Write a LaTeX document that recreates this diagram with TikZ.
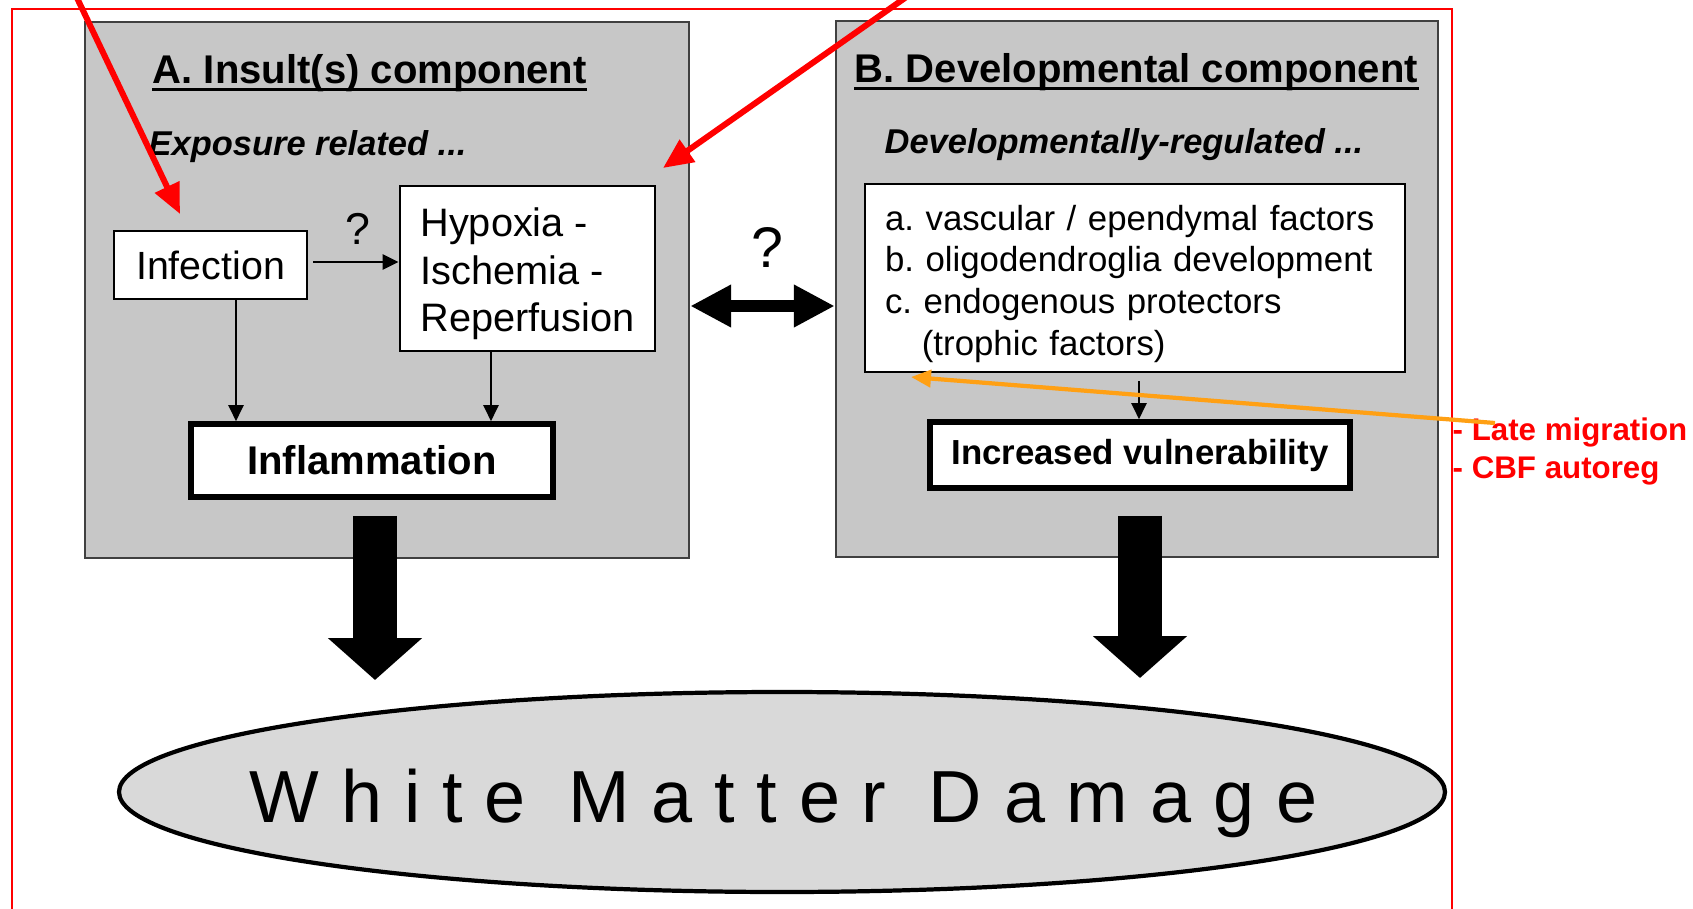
\documentclass[tikz,border=0pt]{standalone}
\usepackage{fontspec}
\setmainfont{Liberation Sans}
\newfontfamily\spacedfont[LetterSpace=29.6]{Liberation Sans}
\usetikzlibrary{arrows.meta, shapes.geometric}
\definecolor{notecolor}{RGB}{255,160,20}
\tikzstyle{panel}=[draw=black!75, line width=0.7pt, fill=black!22]
\tikzstyle{box}=[draw, line width=0.8pt, fill=white, inner sep=0pt]
\tikzstyle{thickbox}=[draw, line width=1.6pt, fill=white, inner sep=0pt]
\tikzstyle{title}=[font=\fontsize{11.4}{13}\selectfont\bfseries, inner sep=0pt, anchor=base west]
\tikzstyle{subtitle}=[font=\fontsize{9.8}{12}\selectfont\bfseries\itshape, inner sep=0pt, anchor=base west]
\tikzstyle{thin arrow}=[line width=0.7pt, -{Triangle[length=0.16cm, width=0.15cm]}]
\tikzstyle{big arrow}=[line width=0.44cm, -{Triangle[length=0.42cm, width=0.92cm]}]
\tikzstyle{note arrow}=[line width=1.7pt, -{Triangle[length=0.30cm, width=0.26cm]}]
\tikzstyle{note}=[font=\fontsize{8.9}{10}\selectfont\bfseries, text=red, inner sep=0pt, anchor=base west]

\begin{document}
\begin{tikzpicture}[x=1cm, y=-1cm]
    \useasboundingbox (0,0) rectangle (16.93,9.09);
    % two components
    \node[panel, minimum width=6.04cm, minimum height=5.36cm] (panelA) at (3.87,2.90) {};
    \node[panel, minimum width=6.02cm, minimum height=5.36cm] (panelB) at (11.37,2.89) {};
    \node[title] (titleA) at (1.52,0.83) {A. Insult(s) component};
    \node[title] (titleB) at (8.54,0.82) {B. Developmental component};
    \draw[line width=0.9pt] ([yshift=-1.8pt]titleA.base west) -- ([yshift=-1.8pt]titleA.base east);
    \draw[line width=0.9pt] ([yshift=-1.8pt]titleB.base west) -- ([yshift=-1.8pt]titleB.base east);
    \node[subtitle] (exposure) at (1.48,1.55) {Exposure related ...};
    \node[subtitle] (regulated) at (8.84,1.53) {Developmentally-regulated ...};

    \node[box, minimum width=1.93cm, minimum height=0.68cm, font=\fontsize{11.2}{13}\selectfont] (infection) at (2.105,2.65) {Infection};
    \node[box, minimum width=2.55cm, minimum height=1.65cm, align=left, font=\fontsize{11.3}{13.4}\selectfont] (hypoxia) at (5.275,2.685) {\rule{0pt}{11.2pt}Hypoxia -\\Ischemia -\\Reperfusion};
    \node[thickbox, minimum width=3.62cm, minimum height=0.73cm, font=\fontsize{11.4}{13}\selectfont\bfseries] (inflammation) at (3.72,4.605) {Inflammation};
    \node[font=\fontsize{12.7}{14}\selectfont] (q1) at (3.58,2.29) {?};
    \draw[thin arrow, shorten <=0.05cm] ([yshift=0.03cm]infection.east) -- ([yshift=0.03cm]infection.east -| hypoxia.west);
    \draw[thin arrow] ([xshift=0.255cm]infection.south) -- ([xshift=0.255cm]infection.south |- inflammation.north);
    \draw[thin arrow] ([xshift=-0.365cm]hypoxia.south) -- ([xshift=-0.365cm]hypoxia.south |- inflammation.north);

    \node[box, minimum width=5.40cm, minimum height=1.88cm, text width=5.0cm, inner xsep=0.2cm, align=left, font=\fontsize{9.9}{11.9}\selectfont\frenchspacing] (factors) at (11.35,2.78) {\rule{0pt}{10.5pt}a. vascular / ependymal factors\\b. oligodendroglia development\\c. endogenous protectors\\\hspace*{10.5pt}(trophic factors)};
    \node[thickbox, minimum width=4.20cm, minimum height=0.66cm, font=\fontsize{9.9}{12}\selectfont\bfseries] (vulnerability) at (11.40,4.55) {Increased vulnerability};
    \draw[thin arrow, shorten <=0.08cm] ([xshift=0.04cm]factors.south) -- ([xshift=0.04cm]factors.south |- vulnerability.north);

    \node[font=\fontsize{16.3}{18}\selectfont] (q2) at (7.675,2.475) {?};
    \draw[line width=3.4pt, {Triangle[length=0.41cm, width=0.40cm]}-{Triangle[length=0.41cm, width=0.40cm]}] ([yshift=-0.16cm]panelA.east) -- ([yshift=-0.16cm]panelA.east -| panelB.west);

    % outcome
    \node[ellipse, draw, line width=1.2pt, fill=black!15, minimum width=13.26cm, minimum height=2.0cm, inner sep=0pt] (wmd) at (7.82,7.92) {};
    \node[font=\fontsize{21}{24}\selectfont\spacedfont, anchor=base, inner sep=0pt] (wmdtext) at (7.835,8.22) {White Matter Damage};
    \coordinate (tipA) at (3.75,6.80);
    \coordinate (tipB) at (11.40,6.78);
    \draw[big arrow] ([xshift=0.03cm, yshift=-0.16cm]inflammation.south) -- (tipA);
    \draw[big arrow] ([yshift=-0.25cm]vulnerability.south) -- (tipB);

    % annotations
    \draw[red, line width=0.6pt] (0.12,9.3) -- (0.12,0.09) -- (14.52,0.09) -- (14.52,9.3);
    \coordinate (infectionnote) at (1.80,2.14);
    \coordinate (hypoxianote) at (6.63,1.68);
    \draw[red, note arrow] (0.68,-0.21) -- (infectionnote);
    \draw[red, note arrow] (9.32,-0.21) -- (hypoxianote);
    \node[note] (migration) at (14.52,4.40) {- Late migration};
    \node[note] (autoreg) at (14.52,4.78) {- CBF autoreg};
    \coordinate (migrationtail) at (14.95,4.23);
    \coordinate (factorsnote) at (9.11,3.77);
    \draw[notecolor, line width=1.2pt, -{Triangle[length=0.2cm, width=0.17cm]}] (migrationtail) -- (factorsnote);
\end{tikzpicture}
\end{document}
